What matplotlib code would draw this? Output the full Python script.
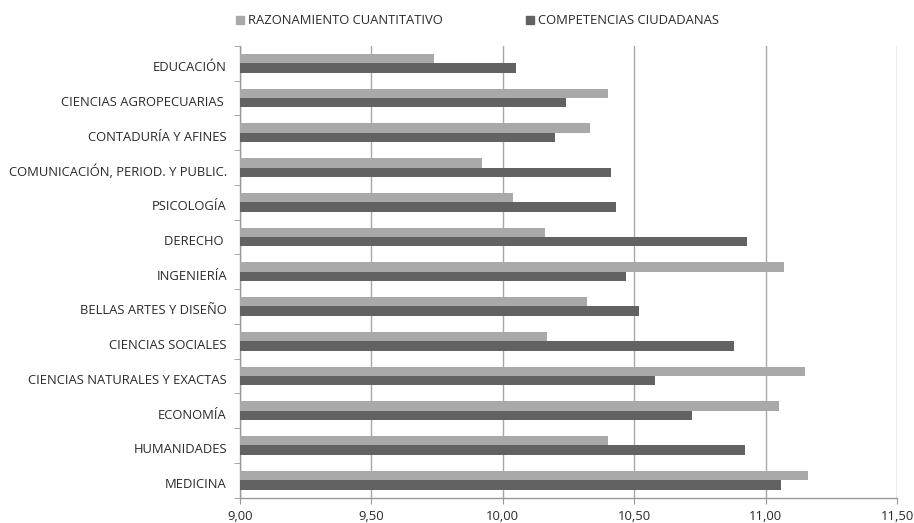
import matplotlib
matplotlib.use("Agg")
import matplotlib.pyplot as plt
import numpy as np
from matplotlib.ticker import FuncFormatter, FixedLocator
from matplotlib.lines import Line2D
from matplotlib.transforms import ScaledTranslation

categories = ["EDUCACIÓN", "CIENCIAS AGROPECUARIAS ", "CONTADURÍA Y AFINES",
              "COMUNICACIÓN, PERIOD. Y PUBLIC.", "PSICOLOGÍA", "DERECHO ",
              "INGENIERÍA", "BELLAS ARTES Y DISEÑO", "CIENCIAS SOCIALES",
              "CIENCIAS NATURALES Y EXACTAS", "ECONOMÍA", "HUMANIDADES", "MEDICINA"]
razonamiento = [9.74, 10.40, 10.33, 9.92, 10.04, 10.16, 11.07, 10.32, 10.17, 11.15, 11.05, 10.40, 11.16]
competencias = [10.05, 10.24, 10.20, 10.41, 10.43, 10.93, 10.47, 10.52, 10.88, 10.58, 10.72, 10.92, 11.06]
series_names = ["RAZONAMIENTO CUANTITATIVO", "COMPETENCIAS CIUDADANAS"]
x_ticks = [9.0, 9.5, 10.0, 10.5, 11.0, 11.5]

plt.rcParams['font.family'] = ['Open Sans', 'DejaVu Sans']
fig = plt.figure(figsize=(9.14, 5.23), dpi=100)
ax = fig.add_axes([240/914, 1-497.5/523, (897-240)/914, (497.5-46)/523])

light = "#a9a9a9"
dark = "#626262"
txt = "#2a2a2a"
y = np.arange(len(categories))
h = 0.27
base = 9.0
ax.barh(y - h/2, np.array(razonamiento) - base, height=h, left=base, color=light, zorder=3)
ax.barh(y + h/2, np.array(competencias) - base, height=h, left=base, color=dark, zorder=3)

ax.set_xlim(9.0, 11.5)
ax.set_ylim(len(categories) - 0.5, -0.5)
ax.xaxis.set_major_locator(FixedLocator(x_ticks))
ax.xaxis.set_major_formatter(FuncFormatter(lambda v, p: f"{v:.2f}".replace(".", ",")))
ax.set_yticks(y)
ax.set_yticklabels(categories)
ax.set_yticks(np.arange(-0.5, len(categories), 1), minor=True)
ax.tick_params(axis='y', which='major', length=0, pad=9.4, labelsize=9.35, labelcolor=txt)
ax.tick_params(axis='y', which='minor', length=4, color="#999999", direction='out')
ax.tick_params(axis='x', which='major', length=4, color="#999999", labelsize=9.35, labelcolor=txt, pad=5)

off = ScaledTranslation(0, -3/100, fig.dpi_scale_trans)
for lab in ax.get_yticklabels():
    lab.set_transform(lab.get_transform() + off)

ax.grid(axis='x', color="#a8a8a8", linewidth=1.0, zorder=0)
for s in ['top', 'right']:
    ax.spines[s].set_visible(False)
for s in ['left', 'bottom']:
    ax.spines[s].set_color("#999999")
    ax.spines[s].set_linewidth(1.0)

handles = [Line2D([], [], marker='s', linestyle='none', markersize=6, color=light),
           Line2D([], [], marker='s', linestyle='none', markersize=6, color=dark)]
fig.legend(handles, series_names, loc='upper center', bbox_to_anchor=(0.521, 0.995), ncol=2,
           frameon=False, fontsize=9.35, columnspacing=6.2, handletextpad=0.1, handlelength=1.0,
           labelcolor=txt)

fig.savefig("out.png", dpi=100)
